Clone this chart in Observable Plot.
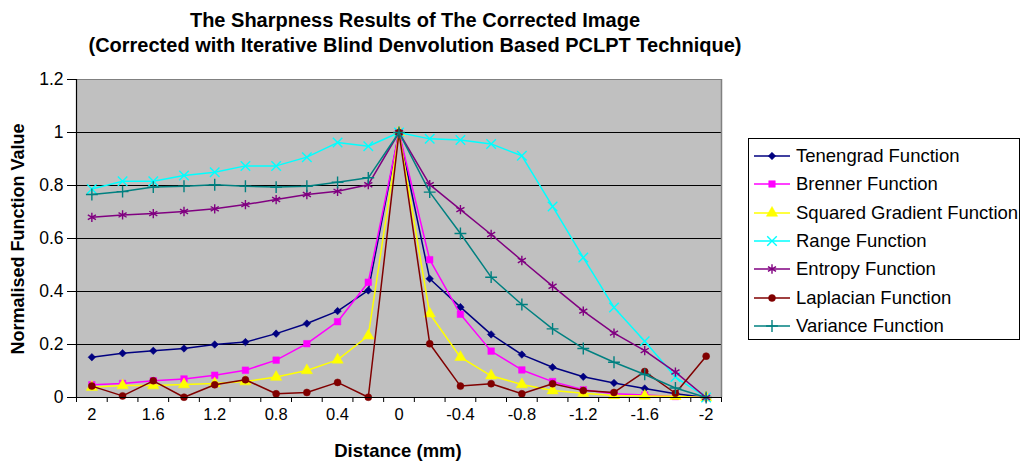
<!DOCTYPE html>
<html>
<head>
<meta charset="utf-8">
<script src="https://cdn.jsdelivr.net/npm/d3@7"></script>
<script src="https://cdn.jsdelivr.net/npm/@observablehq/plot@0.6"></script>
<style>
  html, body { margin: 0; padding: 0; background: #fff; }
  body { font-family: Arial, "Liberation Sans", sans-serif; color: #000; }
  #wrap { position: relative; width: 1024px; height: 462px; overflow: hidden; }
  #chart { position: absolute; left: 0; top: 0; }
  .title { position: absolute; left: 0; width: 830px; text-align: center; font-weight: bold; font-size: 20px; line-height: 22px; white-space: nowrap; }
  #xlabel { position: absolute; left: 298px; width: 200px; top: 441px; text-align: center; font-weight: bold; font-size: 18.5px; line-height: 20px; }
  #ylabel { position: absolute; left: 18px; top: 239px; transform: translate(-50%, -50%) rotate(-90deg); font-weight: bold; font-size: 18px; white-space: nowrap; line-height: 20px; }
  #legend { position: absolute; left: 748px; top: 138px; width: 272px; height: 202px; border: 1px solid #000; box-sizing: border-box; background: #fff; }
  .item { position: absolute; left: 5px; height: 24px; display: flex; align-items: center; font-size: 18.5px; white-space: nowrap; }
  .item svg { margin-right: 6px; }
</style>
</head>
<body>
<div id="wrap">
  <div id="chart"></div>
  <div class="title" style="top:9px">The Sharpness Results of The Corrected Image</div>
  <div class="title" style="top:34px">(Corrected with Iterative Blind Denvolution Based PCLPT Technique)</div>
  <div id="ylabel">Normalised Function Value</div>
  <div id="xlabel">Distance (mm)</div>
  <div id="legend"></div>
</div>
<script>
// ---- data ----
const distances = [2, 1.8, 1.6, 1.4, 1.2, 1, 0.8, 0.6, 0.4, 0.2, 0, -0.2, -0.4, -0.6, -0.8, -1, -1.2, -1.4, -1.6, -1.8, -2];

const tenengrad = [0.152, 0.167, 0.176, 0.185, 0.200, 0.209, 0.241, 0.279, 0.326, 0.404, 1.0, 0.448, 0.341, 0.238, 0.162, 0.114, 0.078, 0.055, 0.034, 0.014, 0.0];
const brenner   = [0.048, 0.053, 0.063, 0.070, 0.084, 0.103, 0.141, 0.203, 0.286, 0.435, 1.0, 0.520, 0.314, 0.175, 0.104, 0.060, 0.029, 0.014, 0.009, 0.004, 0.0];
const squaredGradient = [0.039, 0.045, 0.045, 0.049, 0.053, 0.060, 0.077, 0.102, 0.142, 0.233, 1.0, 0.316, 0.152, 0.082, 0.049, 0.026, 0.016, 0.008, 0.006, 0.005, 0.0];
const range     = [0.787, 0.816, 0.816, 0.838, 0.850, 0.874, 0.874, 0.907, 0.962, 0.948, 1.0, 0.976, 0.972, 0.957, 0.912, 0.721, 0.528, 0.340, 0.212, 0.077, 0.0];
const entropy   = [0.680, 0.689, 0.694, 0.702, 0.712, 0.728, 0.747, 0.766, 0.778, 0.803, 1.0, 0.803, 0.709, 0.615, 0.517, 0.420, 0.326, 0.243, 0.177, 0.096, 0.0];
const laplacian = [0.043, 0.006, 0.063, 0.001, 0.048, 0.067, 0.014, 0.019, 0.057, 0.001, 1.0, 0.203, 0.043, 0.052, 0.014, 0.052, 0.026, 0.019, 0.098, 0.016, 0.156];
const variance  = [0.766, 0.777, 0.794, 0.797, 0.803, 0.797, 0.794, 0.797, 0.812, 0.829, 1.0, 0.775, 0.619, 0.454, 0.351, 0.259, 0.185, 0.133, 0.087, 0.036, 0.0];

const seriesNames = ["Tenengrad Function", "Brenner Function", "Squared Gradient Function", "Range Function", "Entropy Function", "Laplacian Function", "Variance Function"];
const seriesValues = [tenengrad, brenner, squaredGradient, range, entropy, laplacian, variance];
const seriesColors = ["#000080", "#FF00FF", "#FFFF00", "#00FFFF", "#800080", "#800000", "#008080"];

const xTickLabels = ["2", "1.6", "1.2", "0.8", "0.4", "0", "-0.4", "-0.8", "-1.2", "-1.6", "-2"];
const yTickLabels = ["0", "0.2", "0.4", "0.6", "0.8", "1", "1.2"];

// ---- marker styles (not data) ----
const markers = [
  {symbol: "square", r: 3.0, rotate: 45, filled: true},
  {symbol: "square", r: 3.7, rotate: 0, filled: true},
  {symbol: "triangle", r: 4.2, rotate: 0, filled: true},
  {symbol: "times", r: 4.4, rotate: 0, filled: false},
  {symbol: "asterisk", r: 4.4, rotate: 0, filled: false},
  {symbol: "circle", r: 3.5, rotate: 0, filled: true},
  {symbol: "plus", r: 3.9, rotate: 0, filled: false}
];

// ---- build table ----
const rows = [];
seriesNames.forEach((name, s) => {
  distances.forEach((d, i) => rows.push({series: name, s, distance: d, value: seriesValues[s][i]}));
});

const step = Math.abs(distances[1] - distances[0]);
const xDomain = [distances[0] + step / 2, distances[distances.length - 1] - step / 2];
const boundaries = distances.map(d => d + step / 2).concat([distances[distances.length - 1] - step / 2]);
const yTicks = yTickLabels.map(Number);
const xTicks = xTickLabels.map(Number);

const marks = [
  Plot.frame({fill: "#C0C0C0", stroke: "none"}),
  Plot.gridY({ticks: yTicks, stroke: "#000", strokeOpacity: 1, strokeWidth: 1.2}),
  Plot.ruleX([xDomain[1]], {stroke: "#808080", strokeWidth: 1.5}),
  Plot.ruleY([yTicks[yTicks.length - 1]], {stroke: "#808080", strokeWidth: 1})
];

seriesNames.forEach((name, s) => {
  const data = rows.filter(r => r.s === s);
  const m = markers[s];
  const c = seriesColors[s];
  marks.push(Plot.line(data, {x: "distance", y: "value", stroke: c, strokeWidth: 1.5}));
  marks.push(Plot.dot(data, {
    x: "distance", y: "value", symbol: () => m.symbol, r: m.r, rotate: m.rotate,
    fill: m.filled ? c : "none", stroke: c, strokeWidth: m.filled ? 0.5 : 1.4
  }));
});

marks.push(
  Plot.ruleY([0], {stroke: "#000", strokeWidth: 1.2}),
  Plot.ruleX([xDomain[0]], {stroke: "#000", strokeWidth: 1.2}),
  Plot.axisY({ticks: yTicks, tickFormat: (d, i) => yTickLabels[i], tickSize: 9, tickPadding: 4, fontSize: 17.5, label: null, stroke: "#000"}),
  Plot.axisX({ticks: boundaries, tickFormat: () => "", tickSize: 5, label: null, stroke: "#000"}),
  Plot.axisX({ticks: xTicks, tickFormat: (d, i) => xTickLabels[i], tickSize: 0, tickPadding: 11, fontSize: 16.5, label: null})
);

const chart = Plot.plot({
  width: 1024,
  height: 462,
  marginLeft: 76,
  marginRight: 303,
  marginTop: 79,
  marginBottom: 65,
  style: {fontFamily: 'Arial, "Liberation Sans", sans-serif', color: "#000", background: "transparent"},
  x: {type: "linear", domain: xDomain},
  y: {type: "linear", domain: [0, 1.2]},
  symbol: {type: "identity"},
  marks
});
document.getElementById("chart").appendChild(chart);

// ---- legend ----
const legend = d3.select("#legend");
seriesNames.forEach((name, s) => {
  const m = markers[s];
  const c = seriesColors[s];
  const item = legend.append("div").attr("class", "item").style("top", (5 + s * 28.3) + "px");
  const svg = item.append("svg").attr("width", 36).attr("height", 14);
  svg.append("line").attr("x1", 0).attr("x2", 36).attr("y1", 7).attr("y2", 7).attr("stroke", c).attr("stroke-width", 1.5);
  const symType = {square: d3.symbolSquare, triangle: d3.symbolTriangle, times: d3.symbolTimes, asterisk: d3.symbolAsterisk, circle: d3.symbolCircle, plus: d3.symbolPlus}[m.symbol];
  svg.append("path")
    .attr("d", d3.symbol(symType, Math.PI * m.r * m.r)())
    .attr("transform", `translate(18,7) rotate(${m.rotate})`)
    .attr("fill", m.filled ? c : "none").attr("stroke", c).attr("stroke-width", m.filled ? 0.5 : 1.4);
  item.append("span").text(name);
});
</script>
</body>
</html>
